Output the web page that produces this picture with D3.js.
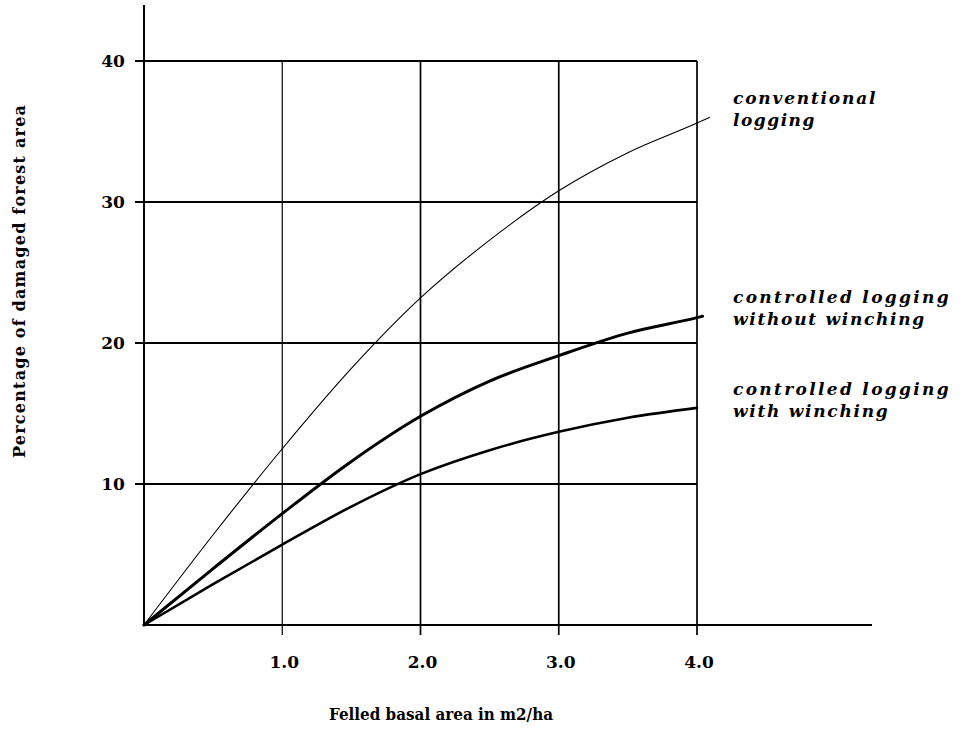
<!DOCTYPE html>
<html>
<head>
<meta charset="utf-8">
<script src="https://cdn.jsdelivr.net/npm/d3@7"></script>
<style>
    body { margin: 0; background: #fff; }
    svg { display: block; }
</style>
</head>
<body>
<div id="chart"></div>
<script>
// values
const basalArea = [0, 0.5, 1, 1.5, 2, 2.5, 3, 3.5, 4];
const conventional = [0, 6.4, 12.5, 18.2, 23.2, 27.3, 30.8, 33.5, 35.6];
const withoutWinching = [0, 4.0, 7.9, 11.6, 14.8, 17.3, 19.1, 20.7, 21.8];
const withWinching = [0, 2.9, 5.7, 8.4, 10.7, 12.4, 13.7, 14.7, 15.4];
// the pen ran a little past 4.0 on two of the curves
const tailX = [4.09, 4.04, 4.0];
const tailY = [36.0, 21.9, 15.4];
const seriesNames = [["conventional", "logging"],
    ["controlled logging", "without winching"],
    ["controlled logging", "with winching"]];
const xTicks = [1, 2, 3, 4];
const xTickLabels = ["1.0", "2.0", "3.0", "4.0"];
const yTicks = [10, 20, 30, 40];
const yTickLabels = ["10", "20", "30", "40"];

let totalWidth = 963, totalHeight = 742;
let x0 = 144, xGridEnd = 697, xAxisEnd = 872;
let y0 = 625, y40 = 61, yAxisTop = 5;
let tickFont = "'DejaVu Serif', serif";
let lineWidths = [1.1, 3, 2.6];
let charWidth = 12.2; // the original was set in a typewriter face

let x = d3.scaleLinear().domain([0, 4]).range([x0, xGridEnd]);
let y = d3.scaleLinear().domain([0, 40]).range([y0, y40]);

let svg = d3.select("#chart").append("svg")
        .attr("width", totalWidth)
        .attr("height", totalHeight);

function drawGrid() {
    let g = svg.append("g").attr("stroke", "#000");
    g.selectAll(".hgrid")
            .data(yTicks)
            .enter().append("line")
            .attr("class", "hgrid")
            .attr("x1", x0 - 9)
            .attr("x2", x(4))
            .attr("y1", d => y(d))
            .attr("y2", d => y(d))
            .attr("stroke-width", 2);
    g.selectAll(".vgrid")
            .data(xTicks)
            .enter().append("line")
            .attr("class", "vgrid")
            .attr("x1", d => x(d))
            .attr("x2", d => x(d))
            .attr("y1", y(40))
            .attr("y2", y0 + 10)
            .attr("stroke-width", d => d === 1 ? 1.2 : 1.7);
    // axes
    g.append("line")
            .attr("x1", x0).attr("x2", x0)
            .attr("y1", yAxisTop).attr("y2", y0)
            .attr("stroke-width", 2);
    g.append("line")
            .attr("x1", x0).attr("x2", xAxisEnd)
            .attr("y1", y0).attr("y2", y0)
            .attr("stroke-width", 2);
}

function drawTickLabels() {
    svg.append("g").selectAll("text")
            .data(yTicks)
            .enter().append("text")
            .attr("x", 113)
            .attr("y", d => y(d) + 6)
            .attr("text-anchor", "middle")
            .attr("font-family", tickFont)
            .attr("font-weight", "bold")
            .attr("font-size", 17)
            .text((d, i) => yTickLabels[i]);
    svg.append("g").selectAll("text")
            .data(xTicks)
            .enter().append("text")
            .attr("x", d => x(d) + 2)
            .attr("y", 668)
            .attr("text-anchor", "middle")
            .attr("font-family", tickFont)
            .attr("font-weight", "bold")
            .attr("font-size", 17)
            .text((d, i) => xTickLabels[i]);
}

function drawTitles() {
    svg.append("text")
            .attr("x", 329)
            .attr("y", 720)
            .attr("font-family", tickFont)
            .attr("font-weight", "bold")
            .attr("font-size", 17)
            .attr("textLength", 224)
            .attr("lengthAdjust", "spacingAndGlyphs")
            .text("Felled basal area in m2/ha");
    svg.append("text")
            .attr("transform", "translate(25,458) rotate(-90)")
            .attr("font-family", tickFont)
            .attr("font-weight", "bold")
            .attr("font-size", 16)
            .attr("textLength", 353)
            .attr("lengthAdjust", "spacing")
            .text("Percentage of damaged forest area");
}

function drawCurves() {
    let series = [conventional, withoutWinching, withWinching];
    let line = d3.line()
            .x(d => x(d[0]))
            .y(d => y(d[1]))
            .curve(d3.curveMonotoneX);
    series.forEach(function (values, i) {
        let pts = basalArea.map((b, j) => [b, values[j]]);
        if (tailX[i] > 4) {
            pts.push([tailX[i], tailY[i]]);
        }
        svg.append("path")
                .datum(pts)
                .attr("fill", "none")
                .attr("stroke", "#000")
                .attr("stroke-width", lineWidths[i])
                .attr("stroke-linecap", "round")
                .attr("d", line);
    });
}

function drawLabels() {
    let baselines = [104, 303, 395];
    seriesNames.forEach(function (rows, i) {
        rows.forEach(function (row, k) {
            svg.append("text")
                    .attr("x", 733)
                    .attr("y", baselines[i] + k * 22)
                    .attr("font-family", tickFont)
                    .attr("font-style", "italic")
                    .attr("font-weight", "bold")
                    .attr("font-size", 17)
                    .attr("textLength", row.length * charWidth - 4)
                    .attr("lengthAdjust", "spacing")
                    .text(row);
        });
    });
}

drawGrid();
drawCurves();
drawTickLabels();
drawTitles();
drawLabels();
</script>
</body>
</html>
